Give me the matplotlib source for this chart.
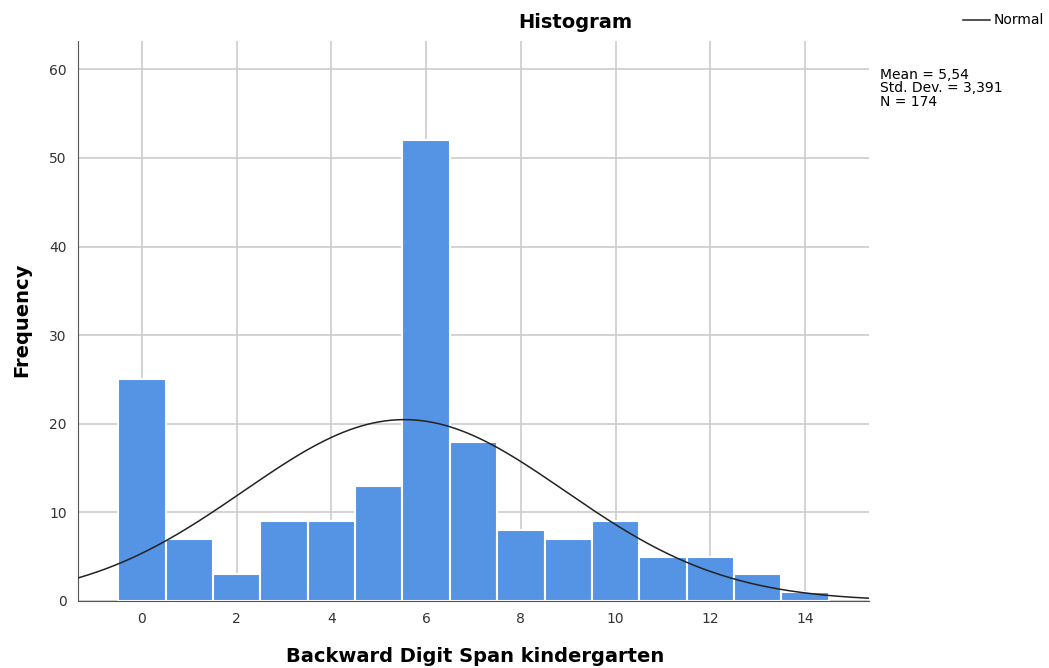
import numpy as np
import matplotlib.pyplot as plt

values = [0, 1, 2, 3, 4, 5, 6, 7, 8, 9, 10, 11, 12, 13, 14]
counts = [25, 7, 3, 9, 9, 13, 52, 18, 8, 7, 9, 5, 5, 3, 1]
mean = 5.54
sd = 3.391
n = 174

fig = plt.figure(figsize=(10.49, 6.68), dpi=100)
ax = fig.add_axes([78 / 1049, 67 / 668, 791 / 1049, 560 / 668])

ax.bar(values, counts, width=1.0, color='#5594E4', edgecolor='white', linewidth=1.5, zorder=2)

xs = np.linspace(-1.35, 15.35, 400)
ys = n * 1.0 / (sd * np.sqrt(2 * np.pi)) * np.exp(-0.5 * ((xs - mean) / sd) ** 2)
ax.plot(xs, ys, color='#222222', linewidth=1.1, zorder=3)

ax.set_xlim(-1.35, 15.35)
ax.set_ylim(0, 63.2)
ax.set_xticks(range(0, 15, 2))
ax.set_yticks(range(0, 61, 10))
ax.grid(True, color='#cccccc', linewidth=1.2, zorder=0)
ax.set_axisbelow(True)
ax.tick_params(length=0, labelsize=10, colors='#333333', pad=8)
for s in ['top', 'right']:
    ax.spines[s].set_visible(False)
ax.spines['left'].set_color('#555555')
ax.spines['bottom'].set_color('#555555')

fig.text(575 / 1049, 1 - 22 / 668, 'Histogram', ha='center', va='center', fontsize=14, fontweight='bold')
fig.text(475 / 1049, 1 - 657 / 668, 'Backward Digit Span kindergarten', ha='center', va='center',
         fontsize=14, fontweight='bold')
fig.text(22 / 1049, 1 - 320 / 668, 'Frequency', ha='center', va='center', rotation=90,
         fontsize=14, fontweight='bold')

fig.lines.append(plt.Line2D([963 / 1049, 990 / 1049], [1 - 20 / 668, 1 - 20 / 668],
                            transform=fig.transFigure, color='#222222', linewidth=1.1))
fig.text(994 / 1049, 1 - 20 / 668, 'Normal', ha='left', va='center', fontsize=10)
fig.text(880 / 1049, 1 - 68 / 668, 'Mean = 5,54\nStd. Dev. = 3,391\nN = 174', ha='left', va='top',
         fontsize=10, linespacing=0.95)

fig.savefig('out.png', dpi=100)
